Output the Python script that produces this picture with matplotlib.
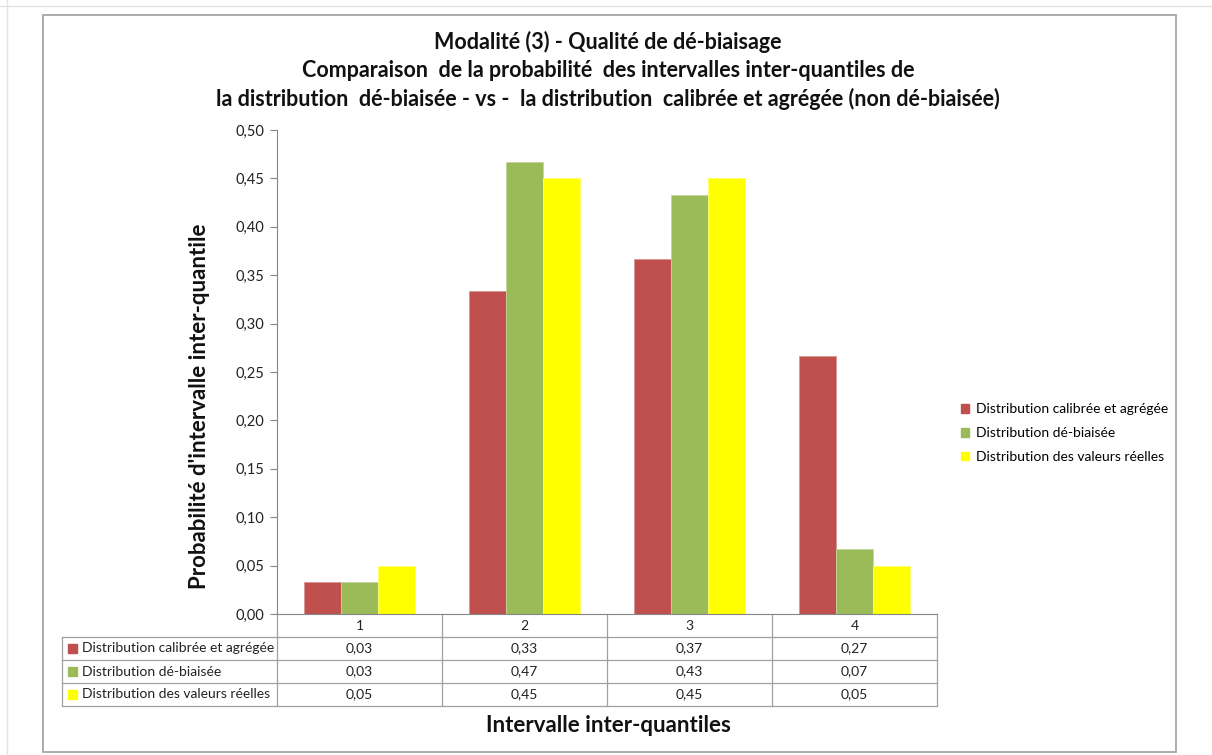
import numpy as np
import matplotlib
matplotlib.use("Agg")
import matplotlib.pyplot as plt
from matplotlib.patches import Rectangle
from matplotlib.lines import Line2D

plt.rcParams["font.family"] = ["Lato", "DejaVu Sans"]

categories = ["1", "2", "3", "4"]
series = ["Distribution calibrée et agrégée", "Distribution dé-biaisée", "Distribution des valeurs réelles"]
calibree = [1/30, 10/30, 11/30, 8/30]
debiaisee = [1/30, 14/30, 13/30, 2/30]
reelles = [0.05, 0.45, 0.45, 0.05]
values = [calibree, debiaisee, reelles]
colors = ["#C0504D", "#9BBB59", "#FFFF00"]
edges = ["#D99694", "#C3D69B", "#FFFF66"]
yticks = np.arange(0, 0.501, 0.05)

W, H = 1212, 755
fig = plt.figure(figsize=(W / 100, H / 100), dpi=100)
fig.patch.set_facecolor("white")

def fx(px): return px / W
def fy(py): return 1 - py / H

# faint spreadsheet grid + chart frame
fig.add_artist(Line2D([0, 1], [fy(6), fy(6)], color="#e2e2e2", lw=1))
fig.add_artist(Line2D([fx(7), fx(7)], [0, 1], color="#e2e2e2", lw=1))
fig.add_artist(Rectangle((fx(43), fy(752)), fx(1176) - fx(43), fy(15) - fy(752),
                         fill=False, edgecolor="#a6a6a6", lw=1.3))

ax = fig.add_axes([fx(277), fy(614), fx(937) - fx(277), fy(130) - fy(614)])
x = np.arange(len(categories))
bw = 0.225
for i, (vals, c, ec) in enumerate(zip(values, colors, edges)):
    ax.bar(x + (i - 1) * bw, vals, width=bw, color=c, edgecolor=ec, linewidth=0.6, label=series[i])

ax.set_xlim(-0.5, 3.5)
ax.set_ylim(0, 0.5)
ax.set_yticks(yticks)
ax.set_yticklabels([f"{v:.2f}".replace(".", ",") for v in yticks], fontsize=10.5, color="#222222")
ax.set_xticks([])
for s in ["top", "right"]:
    ax.spines[s].set_visible(False)
ax.spines["left"].set_color("#868686")
ax.spines["bottom"].set_color("#868686")
ax.tick_params(axis="y", length=5, color="#868686", pad=4)

# data table under the axis
rh = 23 / 484
upx = 4 / 660
grid = "#a0a0a0"
xl = -0.5 - (277 - 62) * upx
tr = ax.get_xaxis_transform()
for k in range(1, 5):
    ax.plot([xl, 3.5], [-k * rh, -k * rh], color=grid, lw=0.9, transform=tr, clip_on=False)
ax.plot([xl, xl], [-rh, -4 * rh], color=grid, lw=0.9, transform=tr, clip_on=False)
for b in [-0.5, 0.5, 1.5, 2.5, 3.5]:
    ax.plot([b, b], [0, -4 * rh], color=grid, lw=0.9, transform=tr, clip_on=False)
for j, cat in enumerate(categories):
    ax.text(j, -0.5 * rh, cat, transform=tr, ha="center", va="center", fontsize=10, color="#222222")
sq = 9
for i, (name, vals, c) in enumerate(zip(series, values, colors)):
    yc = -(i + 1.5) * rh
    ax.add_patch(Rectangle((xl + 6 * upx, yc - sq / 2 / 484), sq * upx, sq / 484, transform=tr,
                           color=c, clip_on=False))
    ax.text(xl + 20 * upx, yc, name, transform=tr, ha="left", va="center", fontsize=10, color="#222222")
    for j, v in enumerate(vals):
        ax.text(j, yc, f"{v:.2f}".replace(".", ","), transform=tr, ha="center", va="center",
                fontsize=10, color="#222222")

# legend
handles = [Rectangle((0, 0), 1, 1, color=c) for c in colors]
fig.legend(handles, series, loc="center left", bbox_to_anchor=(fx(948), fy(433)), frameon=False,
           fontsize=10, handlelength=0.6, handleheight=0.6, handletextpad=0.5, labelspacing=0.85)

# titles
title = ["Modalité (3) - Qualité de dé-biaisage",
         "Comparaison  de la probabilité  des intervalles inter-quantiles de",
         "la distribution  dé-biaisée - vs -  la distribution  calibrée et agrégée (non dé-biaisée)"]
for k, line in enumerate(title):
    fig.text(fx(608), fy(42 + k * 28.5), line, ha="center", va="center", fontsize=15.5,
             fontweight="bold", color="#111111")

fig.text(fx(200), fy(406), "Probabilité d'intervalle inter-quantile", rotation=90, ha="center",
         va="center", fontsize=16, fontweight="bold", color="#111111")
fig.text(fx(608), fy(725), "Intervalle inter-quantiles", ha="center", va="center", fontsize=16,
         fontweight="bold", color="#111111")

fig.savefig("out.png", dpi=100, facecolor="white")
